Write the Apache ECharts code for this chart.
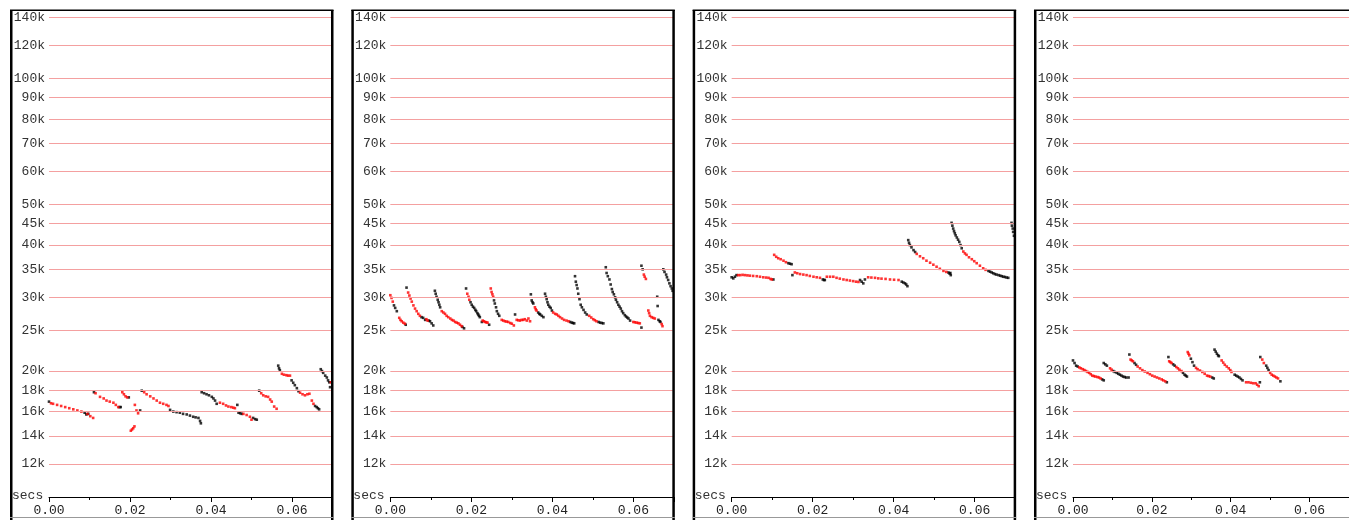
<!DOCTYPE html>
<html><head><meta charset="utf-8">
<script src="https://cdn.jsdelivr.net/npm/echarts@6/dist/echarts.min.js"></script>
<style>html,body{margin:0;padding:0;background:#fff;overflow:hidden}#c{width:1349px;height:520px}</style>
</head><body><div id="c"></div>
<script>
// ---- tick values / labels ----
const yTickValues = [12000,14000,16000,18000,20000,25000,30000,35000,40000,45000,50000,60000,70000,80000,90000,100000,120000,140000];
const yTickLabels = ['12k','14k','16k','18k','20k','25k','30k','35k','40k','45k','50k','60k','70k','80k','90k','100k','120k','140k'];
const xTickLabels = ['0.00','0.02','0.04','0.06'];
const xAxisName = 'secs';

// ---- data: [secs, value in k] ----
const p1Red = [[0.0005,16.75],[0.001,16.7],[0.002,16.6],[0.003,16.5],[0.004,16.4],[0.005,16.3],[0.006,16.2],[0.007,16.1],[0.008,16.0],[0.0095,15.8],[0.0102,15.6],[0.0109,15.45],
 [0.0115,17.7],[0.0126,17.35],[0.0135,17.2],[0.0142,17.0],[0.015,16.9],[0.0159,16.8],[0.0165,16.6],[0.0171,16.4],
 [0.0181,17.8],[0.0185,17.6],[0.0189,17.4],[0.0193,17.3],
 [0.0202,14.4],[0.0205,14.5],[0.0208,14.6],[0.0211,14.75],
 [0.0212,16.6],[0.0216,16.1],[0.022,15.85],
 [0.0235,17.8],[0.0241,17.6],[0.025,17.4],[0.0258,17.2],[0.0266,17.0],[0.0274,16.8],[0.0282,16.7],[0.029,16.6],[0.0295,16.5],
 [0.0422,16.8],[0.043,16.7],[0.0437,16.55],[0.0443,16.45],[0.045,16.4],[0.0455,16.35],[0.0459,16.3],[0.048,15.8],[0.0488,15.7],[0.0496,15.55],[0.05,15.3],
 [0.0524,17.7],[0.0529,17.5],[0.0535,17.4],[0.0541,17.35],[0.0546,17.1],[0.055,16.9],[0.0556,16.45],[0.0562,16.25],
 [0.0575,19.7],[0.058,19.6],[0.0586,19.55],[0.059,19.5],[0.0595,19.5],[0.062,17.75],[0.0626,17.6],[0.0632,17.5],[0.0638,17.6],[0.0643,17.65],[0.0649,17.0],[0.0653,16.7],
 [0.0696,18.8]];
const p1Black = [[0,16.9],[0.0088,15.9],[0.0092,15.75],[0.0097,15.8],[0.0111,17.8],[0.0174,16.4],[0.0177,16.4],[0.0197,17.3],[0.0225,16.1],[0.0229,17.95],
 [0.0299,16.15],[0.0307,16.0],[0.0315,15.95],[0.0323,15.9],[0.0331,15.8],[0.034,15.75],[0.0348,15.65],[0.0356,15.55],[0.0362,15.5],[0.0369,15.45],[0.0373,15.2],[0.0375,15.0],
 [0.0377,17.8],[0.0383,17.7],[0.0389,17.6],[0.0395,17.5],[0.0402,17.35],[0.0406,17.2],[0.041,17.0],[0.0414,16.7],[0.0465,16.6],[0.0468,15.9],[0.0472,15.85],[0.0476,15.8],[0.0504,15.45],[0.0509,15.35],[0.0513,15.3],
 [0.0519,17.95],
 [0.0566,20.6],[0.0568,20.3],[0.057,20.1],[0.0599,19.0],[0.0603,18.75],[0.0607,18.5],[0.0612,18.2],[0.0616,17.9],[0.0657,16.5],[0.0661,16.4],[0.0664,16.3],[0.0667,16.2],
 [0.0671,20.2],[0.0674,20.0],[0.0677,19.8],[0.0682,19.5],[0.0686,19.3],[0.0689,19.0],[0.0692,18.8],[0.0694,18.3]];

const p2Red = [[0,30.35],[0.0003,29.9],[0.0006,29.3],[0.0022,26.8],[0.0025,26.5],[0.0028,26.3],[0.0032,26.1],[0.0036,25.95],
 [0.0044,30.8],[0.0047,30.3],[0.005,29.8],[0.0053,29.3],[0.0057,28.7],[0.0061,28.2],[0.0065,27.8],[0.0069,27.4],[0.0073,27.1],[0.0089,26.6],[0.0092,26.4],
 [0.0127,27.8],[0.0131,27.6],[0.0135,27.4],[0.0139,27.1],[0.0143,26.9],[0.0148,26.7],[0.0152,26.5],[0.0156,26.4],[0.016,26.2],[0.0164,26.1],[0.0168,26.0],[0.0172,25.8],[0.0176,25.6],
 [0.019,30.6],[0.0193,30.1],[0.0195,29.6],[0.0228,26.4],[0.0231,26.3],[0.0234,26.2],[0.0237,26.15],[0.024,26.1],
 [0.0248,31.5],[0.025,30.9],[0.0252,30.5],[0.0254,30.1],[0.0275,26.5],[0.0279,26.4],[0.0283,26.3],[0.0287,26.25],[0.0291,26.2],[0.0296,26.05],[0.03,25.95],[0.0305,25.7],
 [0.0312,26.5],[0.0316,26.45],[0.032,26.4],[0.0324,26.5],[0.0328,26.5],[0.0332,26.6],[0.0337,26.4],[0.0341,26.7],[0.0345,26.3],
 [0.0357,28.4],[0.0359,28.1],[0.0361,27.9],
 [0.0402,27.6],[0.0407,27.4],[0.0411,27.3],[0.0415,27.1],[0.0419,26.9],[0.0424,26.7],[0.0429,26.5],[0.0435,26.4],[0.044,26.3],
 [0.0491,27.1],[0.0496,26.85],[0.0501,26.6],[0.0505,26.45],[0.0509,26.3],
 [0.06,26.2],[0.0604,26.15],[0.0608,26.1],[0.0612,26.05],[0.0616,26.0],
 [0.0626,34.0],[0.0628,33.6],[0.0631,33.2],
 [0.0637,27.9],[0.0639,27.5],[0.0641,27.1],[0.0645,26.9],[0.0649,26.8],[0.0653,26.7],[0.067,25.9],[0.0672,25.6]];
const p2Black = [[0.0009,28.7],[0.0012,28.3],[0.0016,27.8],[0.0038,25.8],
 [0.004,31.65],[0.0077,26.9],[0.0081,26.8],[0.0086,26.5],[0.0095,26.4],[0.0098,26.3],[0.0102,26.0],[0.0106,25.7],
 [0.011,31.1],[0.0112,30.6],[0.0114,30.1],[0.0117,29.6],[0.0119,29.2],[0.0121,28.8],[0.0123,28.4],[0.0178,25.5],[0.0182,25.3],
 [0.0187,31.5],[0.0198,29.2],[0.0201,28.8],[0.0204,28.5],[0.0207,28.3],[0.021,28.0],[0.0212,27.8],[0.0215,27.5],[0.0217,27.3],[0.0219,27.1],[0.0221,26.9],[0.0226,26.2],[0.0244,25.8],
 [0.0256,29.5],[0.0258,29.0],[0.0261,28.4],[0.0263,27.8],[0.0266,27.4],[0.0269,27.1],
 [0.0308,27.3],
 [0.0347,30.5],[0.0349,29.5],[0.0351,29.2],[0.0353,29.0],[0.0365,27.6],[0.0368,27.4],[0.037,27.3],[0.0374,27.1],[0.0378,26.9],
 [0.0382,30.6],[0.0384,30.1],[0.0386,29.7],[0.0388,29.2],[0.039,28.8],[0.0393,28.5],[0.0396,28.3],[0.0399,27.9],[0.0444,26.2],[0.0448,26.1],[0.0451,26.05],[0.0454,26.0],
 [0.0456,33.7],[0.0458,32.7],[0.046,32.1],[0.0462,31.5],[0.0464,30.6],[0.0467,29.7],[0.047,28.8],[0.0473,28.4],[0.0477,28.0],[0.0481,27.6],[0.0485,27.3],[0.0514,26.2],[0.0518,26.1],[0.0522,26.05],[0.0526,26.0],
 [0.0532,35.4],[0.0534,34.3],[0.0537,33.7],[0.0541,33.1],[0.0544,32.2],[0.0547,31.4],[0.0549,30.9],[0.0552,30.5],[0.0555,30.0],[0.0557,29.6],[0.056,29.2],[0.0563,28.8],[0.0566,28.5],[0.0569,28.2],[0.0572,27.8],[0.0575,27.5],[0.0579,27.2],[0.0582,27.0],[0.0585,26.85],[0.0588,26.7],[0.0592,26.4],[0.062,25.4],
 [0.062,35.7],[0.0623,35.0],
 [0.0659,30.1],[0.066,28.6],[0.0662,26.5],[0.0665,26.3],[0.0667,26.2],
 [0.0674,35.0],[0.0677,34.5],[0.0681,34.0],[0.0683,33.5],[0.0686,33.0],[0.0689,32.4],[0.0692,31.9],[0.0695,31.5],[0.0697,31.1]];

const p3Red = [[0.0016,33.9],[0.0021,33.9],[0.0027,33.95],[0.0033,33.9],[0.0039,33.85],[0.0045,33.8],[0.0053,33.75],[0.0062,33.7],[0.007,33.6],[0.0078,33.5],[0.0085,33.45],[0.0091,33.4],[0.0096,33.2],[0.0099,33.1],
 [0.0105,37.9],[0.011,37.5],[0.0115,37.2],[0.0121,37.0],[0.0128,36.7],[0.0134,36.4],
 [0.0156,34.4],[0.0162,34.25],[0.0169,34.1],[0.0177,34.0],[0.0185,33.9],[0.0193,33.75],[0.0202,33.6],[0.021,33.5],[0.0218,33.4],
 [0.0235,33.6],[0.0243,33.6],[0.0251,33.6],[0.0259,33.4],[0.0267,33.25],[0.0276,33.1],[0.0284,33.0],[0.0292,32.9],[0.03,32.8],[0.0307,32.7],[0.0313,32.65],
 [0.0337,33.5],[0.0345,33.45],[0.0354,33.4],[0.0362,33.3],[0.037,33.25],[0.038,33.2],[0.0391,33.1],[0.0401,33.05],[0.0412,33.0],
 [0.0457,38.1],[0.0465,37.6],[0.0473,37.2],[0.0481,36.7],[0.049,36.3],[0.0498,35.9],[0.0506,35.5],[0.0514,35.1],[0.0523,34.7],[0.053,34.5],
 [0.0572,38.6],[0.0576,38.2],[0.058,37.9],[0.0586,37.4],[0.0593,37.0],[0.0599,36.6],[0.0605,36.2],[0.0613,35.7],[0.0621,35.2],[0.0627,34.9]];
const p3Black = [[0,33.5],[0.0004,33.3],[0.0008,33.6],[0.0012,33.9],[0.0103,33.1],
 [0.014,36.2],[0.0144,36.1],[0.0148,36.0],
 [0.015,33.9],[0.0225,33.1],[0.0228,33.0],[0.023,33.0],
 [0.0317,33.0],[0.0321,32.7],[0.0325,32.4],
 [0.0329,33.1],[0.042,32.7],[0.0424,32.55],[0.0428,32.4],[0.0431,32.2],[0.0434,31.9],
 [0.0436,41.1],[0.0438,40.5],[0.044,40.0],[0.0444,39.5],[0.0449,38.9],[0.0453,38.5],[0.0535,34.4],[0.0538,34.2],[0.0541,33.9],[0.054,34.3],
 [0.0543,45.2],[0.0545,44.5],[0.0547,43.8],[0.0549,43.2],[0.0551,42.7],[0.0553,42.2],[0.0556,41.7],[0.0559,41.2],[0.0562,40.7],[0.0565,40.0],[0.0568,39.3],
 [0.0634,34.7],[0.0638,34.55],[0.0642,34.4],[0.0646,34.25],[0.065,34.1],[0.0654,34.0],[0.0659,33.9],[0.0663,33.8],[0.0667,33.7],[0.0671,33.6],[0.0675,33.55],[0.0679,33.45],[0.0683,33.4],
 [0.0691,45.2],[0.0692,44.5],[0.0694,43.8],[0.0695,43.0],[0.0697,42.1]];

const p4Red = [[0.0016,20.4],[0.002,20.3],[0.0025,20.2],[0.0029,20.1],[0.0033,20.0],[0.0037,19.9],[0.0041,19.8],[0.0045,19.65],[0.0049,19.5],[0.0053,19.45],[0.0057,19.4],[0.0062,19.35],[0.0066,19.3],[0.007,19.2],
 [0.0094,20.3],[0.0098,20.15],
 [0.0146,21.3],[0.0149,21.2],[0.0152,21.1],[0.0164,20.5],[0.017,20.3],[0.0176,20.1],[0.0182,19.95],[0.0189,19.8],[0.0195,19.65],[0.0201,19.5],[0.0207,19.4],[0.0213,19.3],[0.0219,19.2],[0.0225,19.1],[0.0229,19.0],[0.0234,18.9],
 [0.0244,21.1],[0.0247,21.0],[0.025,20.9],[0.0262,20.45],[0.0266,20.3],[0.027,20.15],[0.0275,20.0],
 [0.0291,22.2],[0.0293,22.0],[0.0295,21.8],[0.0312,20.35],[0.0316,20.2],[0.0322,20.05],[0.0328,19.9],[0.0334,19.7],[0.034,19.5],[0.0344,19.45],[0.0348,19.4],
 [0.0377,21.2],[0.0381,20.95],[0.0385,20.7],[0.039,20.5],[0.0395,20.3],[0.0399,20.1],[0.0402,19.9],[0.0439,18.8],[0.0445,18.8],[0.0451,18.75],[0.0457,18.7],[0.0463,18.7],[0.0467,18.55],[0.0471,18.4],
 [0.048,21.3],[0.0484,20.9],[0.05,19.8],[0.0504,19.6],[0.0508,19.5],[0.0512,19.4],[0.0516,19.3],[0.052,19.2]];
const p4Black = [[0,21.2],[0.0004,20.9],[0.0008,20.6],[0.0012,20.5],[0.0074,19.1],[0.0078,19.0],
 [0.0078,20.9],[0.0082,20.75],[0.0086,20.6],[0.0102,20.0],[0.0106,19.9],[0.0111,19.8],[0.0115,19.7],[0.0119,19.6],[0.0123,19.5],[0.0127,19.4],[0.0131,19.35],[0.0135,19.3],[0.0141,19.3],
 [0.0143,21.9],[0.0156,20.9],[0.016,20.7],[0.0238,18.8],
 [0.0242,21.6],[0.0254,20.75],[0.0258,20.6],[0.0279,19.8],[0.0283,19.6],[0.0286,19.5],[0.0289,19.4],
 [0.0299,21.4],[0.0303,21.0],[0.0307,20.6],[0.0353,19.3],[0.0357,19.2],
 [0.0359,22.5],[0.0362,22.25],[0.0365,22.0],[0.0368,21.8],[0.037,21.7],[0.041,19.6],[0.0414,19.5],[0.0418,19.4],[0.0422,19.3],[0.0426,19.15],[0.043,19.0],[0.0474,18.8],
 [0.0475,21.6],[0.049,20.6],[0.0493,20.35],[0.0496,20.1],[0.0526,18.9]];

const panels = [[p1Red,p1Black],[p2Red,p2Black],[p3Red,p3Black],[p4Red,p4Black]];

// ---- build chart ----
const FONT = '"Liberation Mono","DejaVu Sans Mono",monospace';
const STEP = 341.33;
const toVal = arr => arr.map(d => [d[0], d[1] * 1000]);
const grids = [], xAxes = [], yAxes = [], series = [], graphics = [];

panels.forEach((p, i) => {
  const off = i * STEP;
  grids.push({left: 49 + off, top: 11, width: 283.5, height: 486});
  xAxes.push({
    gridIndex: i, type: 'value', min: 0, max: 0.07, interval: 0.02,
    axisLine: {show: true, onZero: false, lineStyle: {color: '#000', width: 1}},
    axisTick: {show: true, length: 5, lineStyle: {color: '#000'}},
    minorTick: {show: true, splitNumber: 2, length: 3, lineStyle: {color: '#000'}},
    splitLine: {show: false},
    axisLabel: {
      margin: 7, color: '#222', fontFamily: FONT, fontSize: 13,
      showMaxLabel: false,
      formatter: v => { const k = Math.round(v / 0.02); return Math.abs(v - k * 0.02) < 1e-9 ? (xTickLabels[k] || '') : ''; }
    }
  });
  yAxes.push({
    gridIndex: i, type: 'log', logBase: 10, min: 10000, max: 145000,
    axisLine: {show: false}, axisTick: {show: false}, axisLabel: {show: false}, splitLine: {show: false}
  });
  series.push({
    type: 'scatter', xAxisIndex: i, yAxisIndex: i, data: [], silent: true,
    markLine: {
      silent: true, animation: false, symbol: ['none', 'none'],
      lineStyle: {type: 'solid', color: '#f4a0a0', width: 1},
      label: {show: true, position: 'start', distance: 4, color: '#333', fontFamily: FONT, fontSize: 13},
      emphasis: {disabled: true},
      data: yTickValues.map((v, j) => ({yAxis: v, label: {formatter: yTickLabels[j]}}))
    }
  });
  series.push({type: 'scatter', xAxisIndex: i, yAxisIndex: i, data: toVal(p[1]), symbol: 'rect', symbolSize: 2.6, itemStyle: {color: '#000'}, silent: true, animation: false});
  series.push({type: 'scatter', xAxisIndex: i, yAxisIndex: i, data: toVal(p[0]), symbol: 'rect', symbolSize: 2.6, itemStyle: {color: '#ff0000'}, silent: true, animation: false});

  const L = 10 + off, R = 333.5 + off;
  graphics.push({type: 'rect', shape: {x: L, y: 10, width: 2.5, height: 510}, style: {fill: '#000'}, z: 100});
  graphics.push({type: 'rect', shape: {x: R - 2.5, y: 10, width: 2.5, height: 510}, style: {fill: '#000'}, z: 100});
  graphics.push({type: 'rect', shape: {x: L, y: 9.5, width: R - L, height: 1.6}, style: {fill: '#000'}, z: 100});
  graphics.push({type: 'line', shape: {x1: L, y1: 517.5, x2: R, y2: 517.5}, style: {stroke: '#999', lineWidth: 1}, z: 100});
  graphics.push({type: 'text', x: L + 2, y: 502, style: {text: xAxisName, fill: '#333', font: '13px ' + FONT, textVerticalAlign: 'bottom'}, z: 100});
});

const chart = echarts.init(document.getElementById('c'), null, {renderer: 'canvas'});
chart.setOption({
  animation: false, backgroundColor: '#fff',
  grid: grids, xAxis: xAxes, yAxis: yAxes, series: series, graphic: graphics
});
</script></body></html>
